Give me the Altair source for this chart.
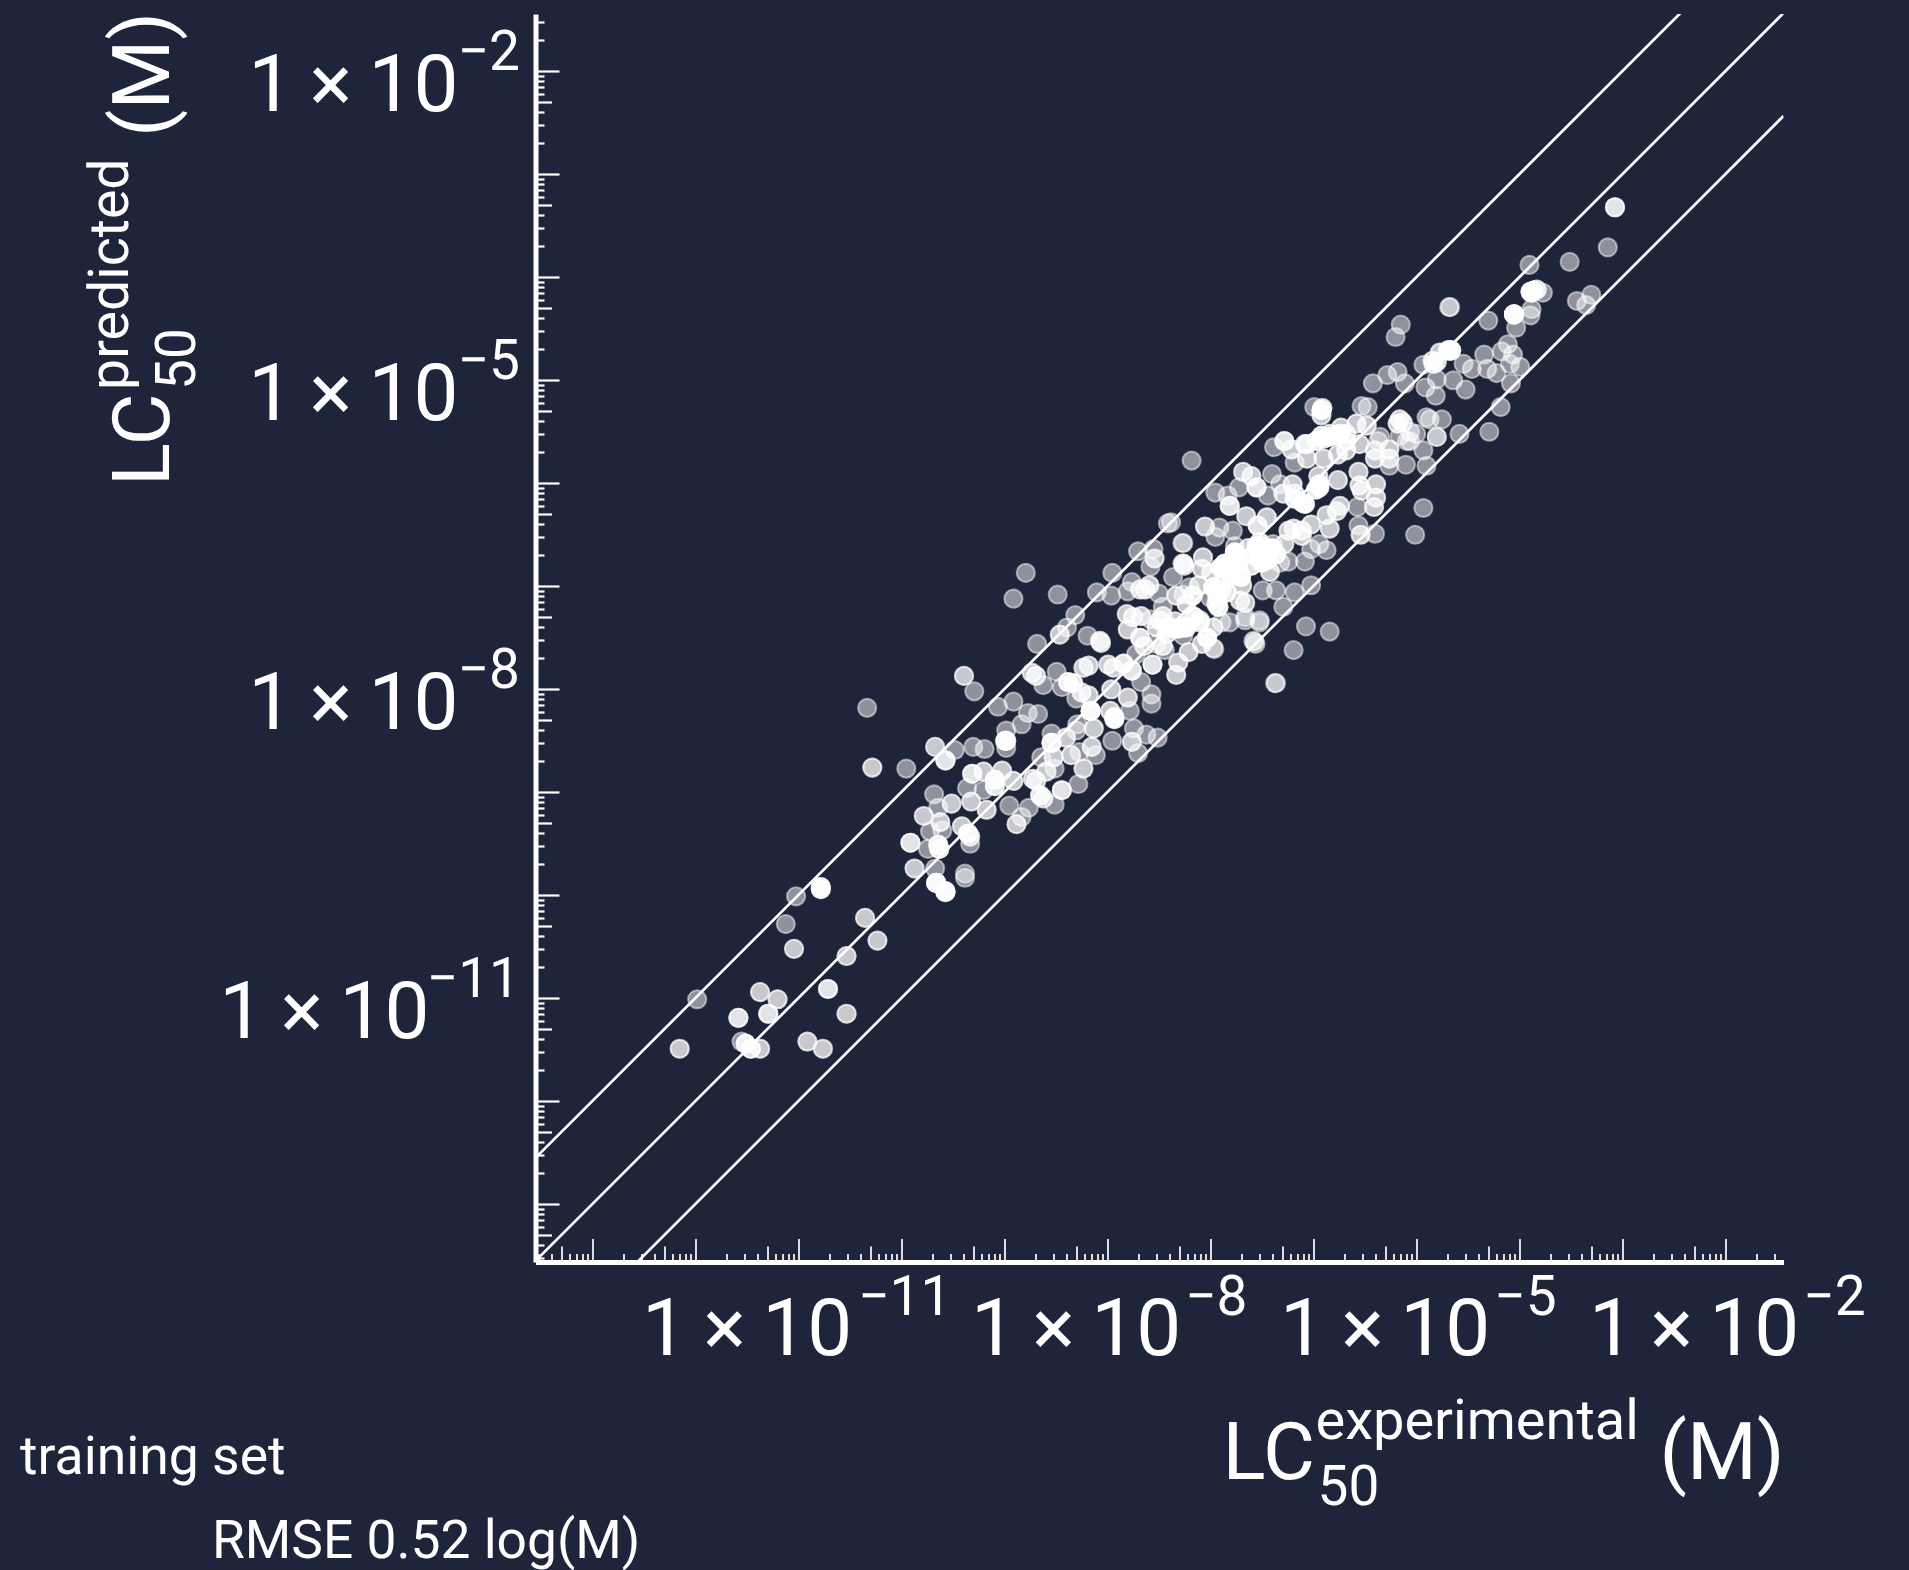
import altair as alt
import pandas as pd

# log10 of (experimental, predicted) LC50
seen_once = [
 (-11.98,-11.01),(-11.55,-11.42),(-11.12,-10.28),(-11.02,-10.01),(-9.38,-9.83),(-10.33,-8.18),(-8.79,-6.87),(-8.91,-7.12),
 (-9.95,-8.77),(-9.29,-8.02),(-9.06,-8.17),(-8.91,-8.12),(-8.77,-8.23),(-8.67,-8.24),(-8.83,-8.34),(-8.98,-8.40),
 (-8.98,-8.57),(-9.48,-8.59),(-9.30,-8.56),(-9.19,-8.58),(-9.36,-8.96),(-9.20,-8.98),(-9.68,-9.02),(-9.64,-9.15),
 (-8.95,-9.13),(-8.76,-9.15),(-8.83,-9.24),(-9.72,-9.38),(-9.60,-9.37),(-9.74,-9.55),(-9.67,-9.74),(-9.38,-9.79),
 (-9.33,-9.50),(-8.68,-7.56),(-8.39,-7.40),(-8.19,-7.48),(-8.49,-7.83),(-8.44,-7.98),(-8.62,-7.96),(-7.72,-7.66),
 (-7.44,-7.62),(-7.21,-7.64),(-7.57,-8.05),(-7.57,-8.14),(-7.67,-7.93),(-8.30,-8.09),(-7.78,-8.21),(-8.29,-8.34),
 (-8.54,-8.43),(-8.30,-8.40),(-8.54,-8.52),(-7.95,-8.50),(-7.74,-8.38),(-7.62,-8.44),(-7.51,-8.47),(-7.70,-8.62),
 (-8.11,-8.64),(-8.27,-8.61),(-8.64,-8.66),(-8.51,-8.77),(-8.28,-8.92),(-8.51,-9.12),(-6.57,-7.54),(-6.37,-7.94),
 (-6.97,-7.60),(-7.03,-7.50),(-6.52,-7.35),(-6.66,-7.33),(-6.81,-7.35),
 (-7.18,-5.78),(-6.95,-6.09),(-6.83,-6.12),(-6.72,-6.04),(-6.40,-5.91),(-6.44,-6.12),(-6.32,-6.01),(-5.56,-6.41),
 (-5.57,-6.23),(-5.40,-6.49),(-4.93,-6.24),(-5.01,-6.50),(-4.90,-5.83),(-4.93,-5.68),(-4.80,-5.55),(-4.58,-5.52),
 (-4.29,-5.50),(-5.10,-5.82),(-5.26,-5.83),(-5.06,-5.59),(-5.16,-5.54),(-5.37,-5.59),(-6.18,-5.80),(-6.38,-5.65),
 (-6.28,-5.59),(-5.94,-6.59),(-5.87,-6.65),(-6.02,-6.64),(-6.08,-6.76),(-7.26,-6.58),(-6.91,-6.43),(-6.95,-6.52),
 (-6.78,-6.46),(-6.76,-6.61),(-6.39,-6.59),(-6.32,-6.77),(-6.24,-6.76),(-6.49,-7.04),(-6.36,-7.04),(-6.18,-7.06),
 (-6.02,-6.99),(-6.29,-7.20),(-6.66,-7.30),(-6.52,-7.33),(-6.89,-7.35),(-7.00,-7.11),(-6.96,-7.61),(-7.21,-7.64),
 (-6.58,-7.53),(-6.56,-7.56),(-6.07,-7.39),(-5.84,-7.44),(-6.19,-7.62),(-6.36,-7.94),(-7.20,-7.01),(-7.26,-7.08),
 (-8.48,-7.08),(-8.31,-7.28),(-8.10,-7.06),(-7.96,-7.09),(-7.95,-6.87),(-7.80,-7.05),(-7.76,-6.96),(-7.70,-6.66),
 (-7.55,-6.64),(-7.58,-6.81),(-7.41,-6.39),(-7.38,-6.38),(-7.27,-6.58),(-7.27,-6.78),(-7.36,-6.91),(-7.50,-7.07),
 (-7.46,-7.20),(-7.58,-7.32),(-7.23,-7.40),(-7.31,-7.41),(-7.52,-7.56),(-7.26,-7.48),
 (-5.99,-5.26),(-5.53,-5.25),(-5.47,-5.26),(-5.42,-5.03),(-5.28,-4.95),(-5.18,-4.92),(-5.11,-5.03),(-5.20,-4.58),
 (-5.15,-4.46),(-4.93,-4.85),(-4.67,-4.29),(-4.91,-5.07),(-4.80,-4.99),(-4.81,-5.15),(-5.35,-5.55),(-5.06,-5.50),
 (-5.09,-5.59),(-5.00,-5.52),(-4.90,-5.36),(-4.87,-5.38),(-4.75,-5.38),(-4.80,-5.55),
 (-3.14,-3.71),(-3.51,-3.85),(-3.90,-3.88),(-3.30,-4.17),(-3.44,-4.23),(-3.35,-4.27),(-3.77,-4.15),(-3.88,-4.31),
 (-3.89,-4.37),(-4.03,-4.49),(-4.30,-4.42),(-4.68,-4.29),(-4.11,-4.65),(-4.17,-4.72),(-4.06,-4.75),(-4.09,-4.84),
 (-3.99,-4.87),(-4.34,-4.75),(-4.31,-4.89),(-4.22,-4.93),(-4.08,-5.03),(-4.18,-5.26),(-4.46,-4.89),(-4.54,-4.84),
 (-4.64,-5.00),(-4.52,-5.09),
]
seen_twice = [
 (-12.15,-11.49),(-11.37,-10.94),(-11.20,-11.01),(-11.37,-11.49),(-10.91,-11.42),(-10.76,-11.49),(-10.53,-11.15),
 (-10.53,-10.59),(-10.23,-10.44),(-10.35,-10.22),(-11.04,-10.52),(-9.66,-9.88),(-10.28,-8.76),(-9.39,-7.87),
 (-9.67,-8.56),(-9.87,-9.74),(-9.78,-9.23),(-9.51,-9.11),(-9.32,-9.09),(-9.17,-9.17),(-9.20,-8.80),(-9.02,-8.79),
 (-8.91,-8.89),(-8.88,-9.31),(-9.62,-9.29),(-9.41,-9.33),(-9.33,-9.43),(-8.46,-7.47),(-8.07,-7.53),(-8.06,-7.55),
 (-8.73,-7.84),(-8.69,-7.87),(-8.25,-8.03),(-8.18,-8.06),(-8.23,-7.79),(-8.18,-7.77),(-7.99,-7.76),(-7.94,-7.79),
 (-7.80,-7.42),(-7.31,-7.74),(-7.33,-7.86),(-7.80,-8.08),(-7.96,-8.00),(-8.16,-8.21),(-7.97,-8.21),(-8.13,-8.38),
 (-8.40,-8.47),(-7.76,-8.51),(-8.15,-8.56),(-8.35,-8.64),(-8.52,-8.66),(-8.23,-8.77),(-8.59,-8.80),(-8.72,-8.87),
 (-8.69,-8.89),(-8.62,-9.06),(-6.68,-5.89),(-6.60,-5.93),(-6.29,-6.10),(-6.20,-6.01),(-6.18,-6.10),(-5.95,-5.93),
 (-5.76,-5.97),(-5.56,-5.89),(-5.55,-6.02),(-5.53,-6.07),(-5.39,-6.01),(-5.39,-6.14),(-5.41,-6.23),(-5.54,-6.50),
 (-5.26,-5.76),(-5.40,-5.76),(-5.40,-5.68),(-5.26,-5.67),(-5.55,-5.62),(-5.68,-5.59),(-5.77,-5.54),(-5.90,-5.57),
 (-5.90,-5.76),(-5.76,-5.72),(-6.06,-5.76),(-6.08,-5.62),(-6.21,-5.67),(-6.28,-5.59),(-5.77,-6.27),(-5.87,-6.31),
 (-5.74,-6.22),(-5.84,-6.44),(-6.02,-6.40),(-6.11,-6.46),(-6.19,-6.44),(-6.24,-6.46),(-6.11,-6.51),(-6.28,-6.59),
 (-6.45,-6.33),(-6.65,-6.32),(-7.05,-6.42),(-7.26,-6.78),(-6.49,-6.61),(-6.52,-6.72),(-6.76,-6.75),(-7.07,-6.72),
 (-7.08,-6.83),(-6.42,-6.86),(-6.66,-7.16),(-6.71,-7.14),(-6.94,-7.17),(-6.89,-7.04),(-7.15,-7.30),(-7.10,-7.35),
 (-6.97,-7.40),(-7.08,-7.56),(-7.68,-7.03),(-7.63,-7.03),(-7.59,-6.99),(-7.54,-6.73),(-7.33,-7.09),(-7.25,-6.80),
 (-7.81,-7.27),(-7.75,-7.30),(-7.49,-7.33),(-7.38,-7.40),(-7.46,-7.29),(-7.42,-7.46),(-7.17,-7.29),(-7.10,-7.33),
 (-7.67,-7.29),(-6.81,-6.80),(-6.76,-6.69),(-6.87,-6.83),(-6.71,-6.88),
 (-5.91,-5.27),(-5.92,-5.34),(-5.84,-5.52),(-5.73,-5.46),(-5.68,-5.52),(-5.58,-5.42),(-5.48,-5.44),(-4.84,-4.81),
 (-4.80,-4.82),(-4.77,-4.73),(-4.83,-4.84),(-5.16,-5.38),(-5.13,-5.41),(-5.18,-5.42),(-6.06,-5.62),(-5.68,-5.68),
 (-3.83,-4.12),
 (-7.64,-7.58),(-7.52,-7.40),(-7.34,-7.34),(-7.23,-7.17),(-7.11,-6.99),(-6.99,-6.87),(-6.87,-6.81),(-6.75,-6.69),
 (-6.63,-6.63),(-6.52,-6.57),(-6.40,-6.63),(-6.93,-7.11),(-6.69,-6.99),(-7.23,-7.40),(-7.46,-7.58),
]
seen_thrice = [
 (-11.58,-11.19),(-11.29,-11.15),(-10.71,-10.91),(-11.51,-11.44),(-11.46,-11.49),(-10.78,-9.94),(-10.78,-9.92),
 (-9.57,-9.97),(-9.57,-8.69),(-9.31,-8.82),(-9.91,-9.49),(-9.66,-9.88),(-9.57,-9.96),(-8.99,-8.50),(-8.98,-8.50),
 (-8.44,-8.98),(-7.56,-7.76),(-9.09,-8.88),(-9.09,-8.94),(-9.35,-9.40),(-9.63,-9.55),(-9.64,-9.51),(-8.65,-9.03),
 (-8.38,-7.93),(-8.33,-7.94),(-7.84,-7.75),(-7.76,-7.82),(-7.68,-7.50),(-7.93,-8.27),(-7.93,-8.29),(-8.16,-8.21),
 (-7.36,-7.41),(-7.42,-7.40),(-7.31,-7.41),(-7.26,-7.40),(-8.54,-8.52),
 (-6.81,-6.22),(-6.55,-6.04),(-6.10,-6.19),(-6.08,-6.20),(-5.94,-6.04),(-5.94,-6.01),(-5.97,-6.06),(-6.18,-6.15),
 (-6.54,-6.41),(-6.55,-6.61),(-6.47,-6.65),(-6.40,-6.64),(-6.57,-6.70),(-6.50,-6.77),(-6.60,-6.80),(-6.44,-6.74),
 (-6.36,-6.69),(-6.76,-6.67),(-6.82,-6.78),(-6.73,-6.80),(-6.79,-6.90),(-6.70,-6.91),(-6.90,-6.82),(-6.87,-6.95),
 (-6.94,-7.04),(-6.84,-7.06),(-6.97,-7.01),(-6.92,-7.20),(-7.17,-7.09),(-7.03,-7.50),(-6.86,-6.78),(-6.81,-6.85),
 (-5.92,-5.54),(-5.97,-5.59),(-5.85,-5.55),(-5.74,-5.52),
 (-5.92,-5.29),(-4.69,-4.71),(-4.67,-4.71),(-4.66,-4.71),
 (-3.07,-3.32),(-3.86,-4.13),(-3.88,-4.15),(-3.89,-4.14),(-4.05,-4.36),(-4.05,-4.36),
]

label_decades = [-11, -8, -5, -2]
tick_decades = list(range(-14, -1))
tick_multipliers = [1, 2, 3, 4, 5, 6, 7, 8, 9]
band_factors = [10, 1, 0.1]
x_domain = [2.82e-14, 3.68e-2]
y_domain = [2.75e-14, 3.6e-2]
BG = "#1e2439"
FONT = "Roboto"
W = 1248

rows = []
for pairs, n in ((seen_once, 1), (seen_twice, 2), (seen_thrice, 3)):
    for a, b in pairs:
        rows += [{"exp": 10.0 ** a, "pred": 10.0 ** b}] * n
points_df = pd.DataFrame(rows)

sx = alt.Scale(type="log", base=10, domain=x_domain, nice=False)
sy = alt.Scale(type="log", base=10, domain=y_domain, nice=False)

ticks_all = [m * 10.0 ** d for d in tick_decades for m in tick_multipliers]
x_ticks = [t for t in ticks_all if x_domain[0] <= t <= x_domain[1]]
y_ticks = [t for t in ticks_all if y_domain[0] <= t <= y_domain[1]]

FRAC = "(log(datum.value)/LN10-floor(log(datum.value)/LN10+0.0001))"
size_cond = {"condition": [{"test": f"abs({FRAC})<0.001", "value": 23.5},
                           {"test": f"abs({FRAC}-0.699)<0.001", "value": 16}],
             "value": 8.5}

def make_axis(orient, vals, width):
    return alt.Axis(orient=orient, offset=-W, values=vals, labels=False, title=None, grid=False,
                    domainColor="white", domainWidth=5, tickColor="white", tickWidth=width,
                    tickSize=size_cond)

ax = make_axis("top", x_ticks, 1.7)
ay = make_axis("right", y_ticks, 2.2)

# diagonal guide lines
line_rows = []
for f in band_factors:
    for xv in x_domain:
        line_rows.append({"x": xv, "y": xv * f, "f": str(f)})
lines = alt.Chart(pd.DataFrame(line_rows)).mark_line(color="white", strokeWidth=2.7, clip=True).encode(
    x=alt.X("x:Q", scale=sx, axis=ax),
    y=alt.Y("y:Q", scale=sy, axis=ay),
    detail="f:N",
)

points = alt.Chart(points_df).mark_circle(
    size=330, color="white", fillOpacity=0.5, stroke="white", strokeOpacity=0.5, strokeWidth=2, opacity=1
).encode(x=alt.X("exp:Q", scale=sx, axis=ax), y=alt.Y("pred:Q", scale=sy, axis=ay))

def sup(e):
    return "\u2212" + str(abs(e))

lab_df = pd.DataFrame({"v": [10.0 ** d for d in label_decades],
                       "base": ["1\u2009\u00d7\u200910"] * len(label_decades),
                       "sup": [sup(d) for d in label_decades],
                       "wide": [d <= -10 for d in label_decades]})

def x_labels(wide, base_dx, sup_dx):
    d = lab_df[lab_df.wide == wide]
    b = alt.Chart(d).mark_text(font=FONT, fontSize=80, color="white", align="right", baseline="alphabetic", dx=base_dx).encode(
        x=alt.X("v:Q", scale=sx, axis=ax), y=alt.value(1341), text="base:N")
    s = alt.Chart(d).mark_text(font=FONT, fontSize=55, color="white", align="left", baseline="alphabetic", dx=sup_dx).encode(
        x=alt.X("v:Q", scale=sx, axis=ax), y=alt.value(1301), text="sup:N")
    return b + s

def y_labels(wide, base_x):
    d = lab_df[lab_df.wide == wide]
    b = alt.Chart(d).mark_text(font=FONT, fontSize=80, color="white", align="right", baseline="alphabetic", dy=39.5).encode(
        x=alt.value(base_x), y=alt.Y("v:Q", scale=sy, axis=ay), text="base:N")
    s = alt.Chart(d).mark_text(font=FONT, fontSize=55, color="white", align="right", baseline="alphabetic", dy=-1.5).encode(
        x=alt.value(-15.5), y=alt.Y("v:Q", scale=sy, axis=ay), text="sup:N")
    return b + s

def note(txt, x, y, size, angle=0):
    return alt.Chart(pd.DataFrame({"t": [txt]})).mark_text(
        font=FONT, fontSize=size, color="white", align="left", baseline="alphabetic", angle=angle
    ).encode(x=alt.value(x), y=alt.value(y), text="t:N")

notes = [
    note("LC", 687, 1465, 80), note("experimental", 780, 1425, 56), note("50", 782, 1491, 55), note("(M)", 1124, 1465, 80),
    note("LC", -366.5, 472, 80, 270), note("predicted", -407.5, 376, 55.5, 270), note("50", -340.5, 376, 55, 270),
    note("(M)", -366.5, 123, 80, 270),
    note("training set", -515.5, 1460, 53.5), note("RMSE 0.52 log(M)", -323.5, 1544, 53.3),
]

chart = alt.layer(
    lines, points,
    x_labels(False, 74, 78), x_labels(True, 54, 60),
    y_labels(False, -77), y_labels(True, -106),
    *notes,
).properties(
    width=W, height=W, background=BG,
    padding={"left": 527.5, "top": 6, "right": 117.5, "bottom": 308},
    autosize=alt.AutoSizeParams(type="none"),
).configure_view(stroke=None, fill=BG)

chart.save("out.html", embed_options={"renderer": "svg", "actions": False,
                                      "defaultStyle": "html,body{background:#1e2439;overflow:hidden}"})
